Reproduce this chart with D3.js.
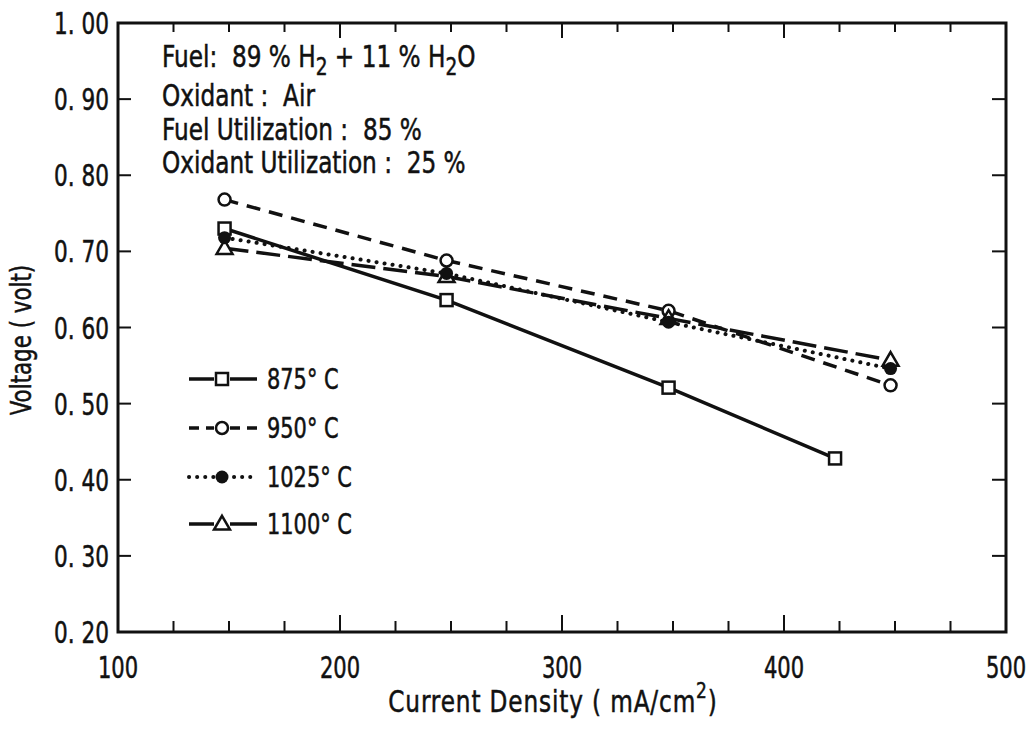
<!DOCTYPE html>
<html>
<head>
<meta charset="utf-8">
<script src="https://cdn.jsdelivr.net/npm/d3@7"></script>
<style>
  body { margin: 0; background: #fff; }
  svg text { font-family: "DejaVu Sans Condensed", "DejaVu Sans", sans-serif; fill: #111; stroke: #111; stroke-width: 0.5px; white-space: pre; }
</style>
</head>
<body>
<svg id="chart" width="1031" height="730"></svg>
<script>
// values
var series = ["875° C", "950° C", "1025° C", "1100° C"];
var current875 = [148, 248, 348, 423];
var current = [148, 248, 348, 448];
var volt875 = [0.730, 0.636, 0.521, 0.428];
var volt950 = [0.768, 0.688, 0.622, 0.524];
var volt1025 = [0.718, 0.671, 0.607, 0.546];
var volt1100 = [0.704, 0.667, 0.612, 0.557];
var xTicks = [100, 200, 300, 400, 500];
var xMinor = d3.range(125, 500, 25);
var yTicks = [0.2, 0.3, 0.4, 0.5, 0.6, 0.7, 0.8, 0.9, 1.0];
var notes = ["Fuel:  89 % H|2| + 11 % H|2|O", "Oxidant :  Air", "Fuel Utilization :  85 %", "Oxidant Utilization :  25 %"];

var svg = d3.select("#chart");
var x = d3.scaleLinear().domain([100, 500]).range([118, 1006]);
var y = d3.scaleLinear().domain([0.2, 1.0]).range([632, 23]);

var data = [
  { name: series[0], xs: current875, ys: volt875, dash: null, mark: "square" },
  { name: series[1], xs: current, ys: volt950, dash: "14,9", mark: "circle" },
  { name: series[3], xs: current, ys: volt1100, dash: "24,8", mark: "triangle" },
  { name: series[2], xs: current, ys: volt1025, dash: "0.1,8", mark: "dot" }
];

// condensed text: the scan uses a narrow face, so squeeze horizontally
function label(px, py, sx, size, anchor) {
  return svg.append("g")
    .attr("transform", "translate(" + px + "," + py + ") scale(" + sx + ",1)")
    .append("text")
    .attr("text-anchor", anchor || "start")
    .style("font-size", size + "px");
}

// frame
svg.append("rect")
  .attr("x", x(100)).attr("y", y(1.0))
  .attr("width", x(500) - x(100)).attr("height", y(0.2) - y(1.0))
  .attr("fill", "none").attr("stroke", "#111").attr("stroke-width", 3);

// x ticks, bottom and top, pointing inward
var xt = svg.append("g");
xMinor.forEach(function (v) {
  var len = v % 100 === 0 ? 17 : 11;
  xt.append("line").attr("x1", x(v)).attr("x2", x(v))
    .attr("y1", y(0.2)).attr("y2", y(0.2) - len)
    .attr("stroke", "#111").attr("stroke-width", 2);
  xt.append("line").attr("x1", x(v)).attr("x2", x(v))
    .attr("y1", y(1.0)).attr("y2", y(1.0) + (len - 2))
    .attr("stroke", "#111").attr("stroke-width", 2);
});
xTicks.forEach(function (d) {
  label(x(d), 678, 0.78, 30, "middle").text(d);
});

// y ticks, left and right
var yt = svg.append("g");
yTicks.slice(1, -1).forEach(function (v) {
  yt.append("line").attr("x1", x(100)).attr("x2", x(100) + 13)
    .attr("y1", y(v)).attr("y2", y(v)).attr("stroke", "#111").attr("stroke-width", 2);
  yt.append("line").attr("x1", x(500)).attr("x2", x(500) - 14)
    .attr("y1", y(v)).attr("y2", y(v)).attr("stroke", "#111").attr("stroke-width", 2);
});
yTicks.forEach(function (d) {
  label(109, y(d) + 11, 0.8, 30, "end").text(d3.format(".2f")(d).replace(".", ". "));
});

// axis titles
var xl = label(553, 712, 0.86, 30, "middle").style("letter-spacing", "1px");
xl.append("tspan").text("Current Density ( mA/cm");
xl.append("tspan").attr("dy", -14).style("font-size", "22px").text("2");
xl.append("tspan").attr("dy", 14).text(")");

svg.append("g")
  .attr("transform", "translate(31,340) rotate(-90) scale(0.82,1)")
  .append("text")
  .attr("text-anchor", "middle")
  .style("font-size", "29px")
  .text("Voltage ( volt)");

// notes in upper left
var noteY = [67, 106, 140, 173];
notes.forEach(function (s, i) {
  var t = label(162, noteY[i], 0.86, 30);
  s.split("|").forEach(function (part, j) {
    if (j % 2 === 1) {
      t.append("tspan").attr("dy", 8).style("font-size", "24px").text(part);
    } else {
      var sp = t.append("tspan").text(part);
      if (j > 0) sp.attr("dy", -8);
    }
  });
});

// lines
var line = d3.line()
  .x(function (d) { return x(d[0]); })
  .y(function (d) { return y(d[1]); });

data.forEach(function (s) {
  svg.append("path")
    .datum(d3.zip(s.xs, s.ys))
    .attr("d", line)
    .attr("fill", "none")
    .attr("stroke", "#111")
    .attr("stroke-width", s.mark === "dot" ? 4 : 3.5)
    .attr("stroke-linecap", s.mark === "dot" ? "round" : "butt")
    .attr("stroke-dasharray", s.dash);
});

function drawMark(g, kind, cx, cy) {
  if (kind === "square") {
    g.append("rect").attr("x", cx - 6).attr("y", cy - 6).attr("width", 12).attr("height", 12)
      .attr("fill", "#fff").attr("stroke", "#111").attr("stroke-width", 2.5);
  } else if (kind === "circle") {
    g.append("circle").attr("cx", cx).attr("cy", cy).attr("r", 6)
      .attr("fill", "#fff").attr("stroke", "#111").attr("stroke-width", 2.5);
  } else if (kind === "dot") {
    g.append("circle").attr("cx", cx).attr("cy", cy).attr("r", 6.5).attr("fill", "#111");
  } else {
    g.append("path")
      .attr("d", d3.symbol().type(d3.symbolTriangle).size(110)())
      .attr("transform", "translate(" + cx + "," + (cy + 1) + ")")
      .attr("fill", "#fff").attr("stroke", "#111").attr("stroke-width", 2.5);
  }
}

var marks = svg.append("g");
data.forEach(function (s) {
  s.xs.forEach(function (v, i) { drawMark(marks, s.mark, x(v), y(s.ys[i])); });
});

// legend
var legRows = [
  { name: series[0], y: 379, mark: "square", dash: null },
  { name: series[1], y: 428, mark: "circle", dash: "10,7" },
  { name: series[2], y: 477, mark: "dot", dash: "0.1,8" },
  { name: series[3], y: 524, mark: "triangle", dash: null }
];
var leg = svg.append("g");
legRows.forEach(function (r) {
  var dot = r.mark === "dot";
  leg.append("line").attr("x1", 189).attr("x2", 214).attr("y1", r.y).attr("y2", r.y)
    .attr("stroke", "#111").attr("stroke-width", dot ? 4 : 3.5)
    .attr("stroke-linecap", dot ? "round" : "butt").attr("stroke-dasharray", r.dash);
  leg.append("line").attr("x1", dot ? 234 : 230).attr("x2", 257).attr("y1", r.y).attr("y2", r.y)
    .attr("stroke", "#111").attr("stroke-width", dot ? 4 : 3.5)
    .attr("stroke-linecap", dot ? "round" : "butt").attr("stroke-dasharray", r.dash);
  drawMark(leg, r.mark, 222, r.y);
  label(267, r.y + 10, 0.83, 28).text(r.name);
});
</script>
</body>
</html>
